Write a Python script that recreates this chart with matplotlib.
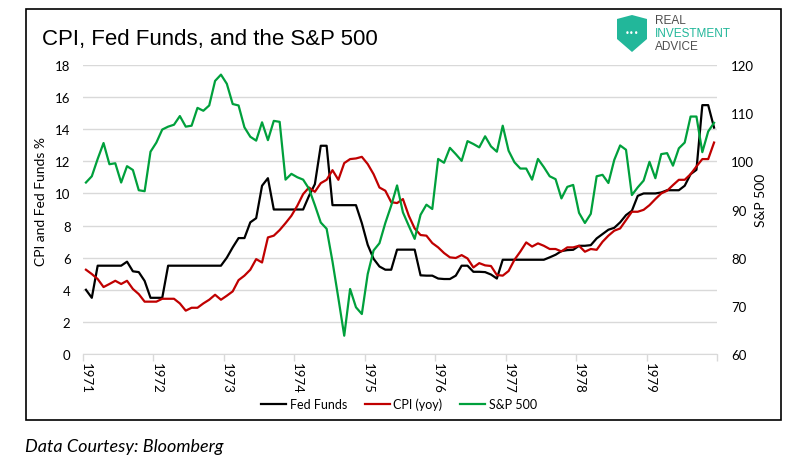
import pandas as pd
import numpy as np
import matplotlib
matplotlib.use('Agg')
import matplotlib.pyplot as plt
from matplotlib.patches import Rectangle, Polygon
from matplotlib.lines import Line2D

plt.rcParams['font.family'] = ['Lato', 'DejaVu Sans']

# monthly values Jan 1971 - Dec 1979
months = pd.date_range('1971-01-01', periods=108, freq='MS')

fed_funds = [4.0, 3.5, 5.5, 5.5, 5.5, 5.5, 5.5, 5.75, 5.15, 5.1, 4.55, 3.5,
             3.5, 3.5, 5.5, 5.5, 5.5, 5.5, 5.5, 5.5, 5.5, 5.5, 5.5, 5.5,
             6.0, 6.64, 7.22, 7.22, 8.2, 8.46, 10.48, 10.95, 9.0, 9.0, 9.0, 9.0,
             9.0, 9.0, 9.85, 10.58, 12.97, 12.97, 9.27, 9.27, 9.27, 9.27, 9.27, 8.15,
             6.8, 5.93, 5.45, 5.25, 5.25, 6.5, 6.5, 6.5, 6.5, 4.9, 4.88, 4.88,
             4.7, 4.67, 4.67, 4.88, 5.5, 5.5, 5.12, 5.12, 5.1, 4.95, 4.7, 5.87,
             5.87, 5.87, 5.87, 5.87, 5.87, 5.87, 5.87, 6.02, 6.18, 6.41, 6.47, 6.49,
             6.74, 6.74, 6.78, 7.2, 7.47, 7.74, 7.86, 8.2, 8.65, 8.92, 9.85, 10.0,
             10.0, 10.0, 10.06, 10.2, 10.2, 10.2, 10.48, 11.2, 11.47, 15.5, 15.5, 14.1]

cpi_yoy = [5.25, 4.98, 4.67, 4.17, 4.36, 4.56, 4.36, 4.56, 4.05, 3.73, 3.26, 3.26,
           3.26, 3.44, 3.44, 3.44, 3.15, 2.70, 2.88, 2.88, 3.15, 3.38, 3.69, 3.38,
           3.63, 3.9, 4.6, 4.88, 5.25, 5.91, 5.7, 7.26, 7.37, 7.72, 8.15, 8.61,
           9.23, 9.96, 10.37, 10.1, 10.64, 10.85, 11.45, 10.85, 11.89, 12.14, 12.18, 12.28,
           11.83, 11.2, 10.37, 10.17, 9.46, 9.4, 9.65, 8.61, 7.82, 7.41, 7.37, 6.91,
           6.64, 6.29, 6.02, 5.98, 6.16, 5.95, 5.39, 5.66, 5.52, 5.48, 4.92, 4.88,
           5.17, 5.87, 6.38, 6.95, 6.69, 6.89, 6.74, 6.54, 6.54, 6.39, 6.64, 6.64,
           6.74, 6.37, 6.54, 6.49, 6.99, 7.37, 7.68, 7.82, 8.34, 8.86, 8.86, 8.98,
           9.27, 9.65, 10.0, 10.17, 10.52, 10.85, 10.85, 11.2, 11.68, 12.14, 12.14, 13.17]

sp500 = [95.6, 96.9, 100.5, 103.8, 99.4, 99.6, 95.6, 99.0, 98.2, 94.0, 93.8, 102.0,
         103.9, 106.6, 107.2, 107.6, 109.4, 107.2, 107.4, 111.1, 110.5, 111.6, 116.7, 118.0,
         116.1, 111.9, 111.6, 107.06, 105.1, 104.3, 108.1, 104.4, 108.4, 108.2, 96.2, 97.4,
         96.7, 96.2, 94.3, 90.9, 87.3, 86.0, 79.2, 71.6, 63.8, 73.5, 69.7, 68.3,
         76.6, 81.5, 83.0, 87.2, 90.8, 95.0, 89.4, 86.6, 83.9, 88.9, 91.0, 90.1,
         100.5, 99.7, 102.8, 101.5, 100.1, 104.2, 103.6, 102.9, 105.2, 103.1, 102.0, 107.4,
         102.2, 99.8, 98.5, 98.5, 96.2, 100.5, 98.8, 96.9, 96.3, 92.3, 94.7, 95.1,
         89.3, 87.2, 89.1, 96.9, 97.2, 95.5, 100.3, 103.3, 102.4, 93.0, 94.6, 96.0,
         99.9, 96.5, 101.5, 101.7, 99.1, 102.7, 103.9, 109.3, 109.3, 101.9, 106.2, 108.0]

left_ticks = [0, 2, 4, 6, 8, 10, 12, 14, 16, 18]
right_ticks = [60, 70, 80, 90, 100, 110, 120]

black = '#000000'
red = '#c00000'
green = '#00a03c'
grid_gray = '#d9d9d9'
teal = '#22b79a'

W, H = 811, 464


def px(x, y):
    # pixel position -> figure fraction
    return (x / W, 1 - y / H)


fig = plt.figure(figsize=(W / 100, H / 100), dpi=100)

# plot area
x0, x1, y0, y1 = 83, 717, 66, 355
ax = fig.add_axes([x0 / W, 1 - y1 / H, (x1 - x0) / W, (y1 - y0) / H])
ax2 = ax.twinx()

x = np.arange(len(months))
ax.plot(x, fed_funds, color=black, lw=1.6)
ax.plot(x, cpi_yoy, color=red, lw=1.6)
ax2.plot(x, sp500, color=green, lw=1.6)

ax.set_xlim(-0.5, len(months) - 0.5)
ax.set_ylim(0, 18)
ax2.set_ylim(60, 120)
ax.set_yticks(left_ticks)
ax2.set_yticks(right_ticks)

# year labels on the first month of each year, tick marks between the years
year_pos = [i for i, m in enumerate(months) if m.month == 1]
ax.set_xticks(year_pos)
ax.set_xticklabels([str(months[i].year) for i in year_pos], rotation=-90, va='top', ha='center')
ax.set_xticks(np.arange(-0.5, len(months), 12), minor=True)

ax.tick_params(axis='x', which='major', length=0, pad=6, labelsize=9.5)
ax.tick_params(axis='x', which='minor', length=5, color=grid_gray, width=1)
ax.tick_params(axis='y', length=0, pad=9, labelsize=9.5)
ax2.tick_params(axis='y', length=0, pad=10, labelsize=9.5)

ax.yaxis.grid(True, color=grid_gray, lw=1)
ax.set_axisbelow(True)
for s in ['top', 'left', 'right']:
    ax.spines[s].set_visible(False)
ax.spines['bottom'].set_color(grid_gray)
for s in ax2.spines.values():
    s.set_visible(False)

ax.set_ylabel('CPI and Fed Funds %', fontsize=10)
ax.yaxis.set_label_coords((47 - x0) / (x1 - x0), 0.53)
ax2.set_ylabel('S&P 500', fontsize=10)
ax2.yaxis.set_label_coords((755 - x0) / (x1 - x0), 0.535)

# legend under the axis
handles = [Line2D([], [], color=black, lw=1.6), Line2D([], [], color=red, lw=1.6),
           Line2D([], [], color=green, lw=1.6)]
fig.legend(handles, ['Fed Funds', 'CPI (yoy)', 'S&P 500'], loc='center',
           bbox_to_anchor=px(399, 405), ncol=3, frameon=False, fontsize=9,
           handlelength=2.0, handletextpad=0.3, columnspacing=1.4)

# title and frame
fig.text(*px(42, 39), 'CPI, Fed Funds, and the S&P 500', family=['Liberation Sans', 'DejaVu Sans'],
         fontsize=16, va='center', ha='left')
bl = px(26, 421)
tr = px(781, 10)
fig.patches.append(Rectangle(bl, tr[0] - bl[0], tr[1] - bl[1], transform=fig.transFigure,
                             fill=False, edgecolor='black', lw=1.2))

# logo
shield = [px(617, 20), px(632, 16), px(647, 20), px(647, 40), px(632, 53), px(617, 40)]
fig.patches.append(Polygon(shield, closed=True, transform=fig.transFigure,
                           facecolor=teal, edgecolor='none'))
fig.text(*px(632, 34), '•••', color='white', fontsize=6, ha='center', va='center',
         family='DejaVu Sans')
fig.text(*px(655, 21), 'REAL', fontsize=8.5, color='#4d4d4d', va='center', family=['Liberation Sans'])
fig.text(*px(655, 34), 'INVESTMENT', fontsize=8.5, color=teal, va='center', family=['Liberation Sans'])
fig.text(*px(655, 47), 'ADVICE', fontsize=8.5, color='#4d4d4d', va='center', family=['Liberation Sans'])

# source note
fig.text(*px(25, 447), 'Data Courtesy: Bloomberg', fontsize=13, style='italic', va='center', ha='left')

fig.savefig('out.png', dpi=100)
